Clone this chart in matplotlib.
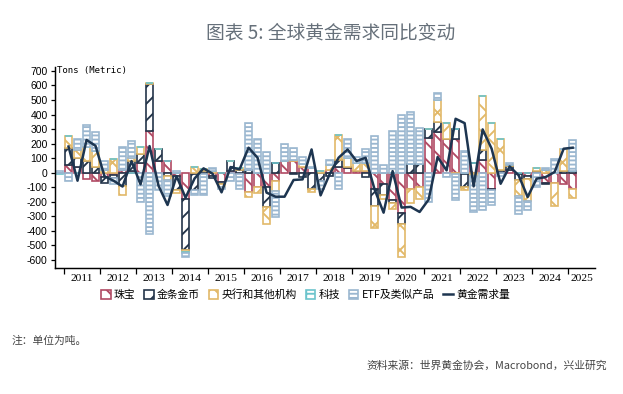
import matplotlib
matplotlib.use("Agg")
import matplotlib.pyplot as plt
import numpy as np

# quarterly yoy change, 2010Q4 .. 2025Q1 (tonnes)
jewelry = [-5, 50, 40, -45, -60, -30, -15, 20, 10, 70, 290, 80, 80, -20, -180, -10, -10, -20, -65, 15,
           -10, -130, -100, -100, -55, 80, 80, 40, 30, -5, 20, 40, 30, 15, 10, -110, -80, -190, -280, -110,
           -100, 240, 280, 230, 230, -10, 70, 85, -110, 5, 20, -10, -20, 5, -70, -70, -75, -110]
barcoin = [0, 120, 60, 80, 40, -40, -20, -90, 70, 60, 320, 80, -20, -100, -350, -110, 10, -15, -15, 65,
           20, 20, 0, -135, 70, 0, -10, -30, -110, -50, -20, 45, 10, 0, -30, -120, -70, -20, -70, 60,
           60, 60, 70, 0, 70, -90, 0, 70, -10, 15, 25, -40, -25, 10, -10, 0, 15, 10]
cbank = [0, 80, 55, 100, 110, 20, 95, -60, 20, 50, 10, 0, -30, -20, -15, 40, 15, 10, -20, 0,
         10, -35, -40, -115, -70, 0, 10, 20, -20, 10, 30, 175, 60, 50, 60, -150, -30, -40, -230, -100,
         -80, 0, 150, 115, -10, -20, -20, 370, 340, 215, 10, -110, -150, 15, 20, -160, 150, -65]
tech = [-5, 5, -5, 0, 0, 0, 0, 0, -5, 0, 0, 0, 0, 0, -5, 0, 0, 0, 0, 0,
        0, 0, 0, 0, 0, 0, 0, 0, 0, 0, 0, 0, 0, 0, 0, 0, 0, 0, 0, 0,
        0, 0, 0, 0, 0, 0, 0, 0, 0, 0, 0, 0, 0, 0, 0, 0, 0, 0]
etf = [10, -55, 75, 150, 130, 60, -40, 156, 120, -200, -420, -120, -110, 10, -30, -30, -140, 25, -10, -55,
       -100, 320, 230, 140, -180, 120, 80, 50, 10, -60, 40, -110, 130, 40, 90, 250, 50, 290, 400, 360,
       250, -200, 45, -30, -180, 150, -250, -260, -100, -20, 10, -125, -60, -100, 10, 95, 0, 215]
total = [np.nan, 180, -55, 225, 185, -25, -55, -95, 80, -80, 183, -90, -222, -23, -172, -40, 30, -7, -135, 39,
         23, 172, 103, -137, -165, -165, -50, -46, 160, -156, -11, 103, 160, 80, 103, -115, -275, 11, -240, -235,
         -270, -185, 108, 16, 371, 341, -94, 298, 165, -76, 43, -18, -167, -41, -30, 5, 165, 172]

years = [str(y) for y in range(2011, 2026)]

series = [
    ("珠宝", jewelry, "#b04a64", "\\\\\\"),
    ("金条金币", barcoin, "#24354a", "///"),
    ("央行和其他机构", cbank, "#e2b969", "xx"),
    ("科技", tech, "#6cc4cc", "++"),
    ("ETF及类似产品", etf, "#9bb7d0", "------"),
]

DPI = 150
plt.rcParams["hatch.linewidth"] = 0.9
plt.rcParams["font.family"] = ["Noto Sans CJK SC", "DejaVu Sans"]

fig = plt.figure(figsize=(623 / DPI, 394 / DPI), dpi=DPI)
ax = fig.add_axes([0.0883, 0.320, 0.867, 0.511])

x = np.arange(len(jewelry))
pos = np.zeros(len(x))
neg = np.zeros(len(x))
for name, vals, col, hatch in series:
    v = np.array(vals, dtype=float)
    bottom = np.where(v >= 0, pos, neg)
    ax.bar(x, v, 0.82, bottom=bottom, facecolor="white", edgecolor=col,
           hatch=hatch, linewidth=0.8, label=name)
    pos += np.where(v >= 0, v, 0)
    neg += np.where(v < 0, v, 0)

ax.plot(x, total, color="#1d3550", linewidth=1.2, label="黄金需求量")

ax.set_xlim(-0.5, 59.5)
ax.set_ylim(-655, 730)

# year boundaries as ticks, labels centred in each year
bounds = np.arange(0.5, 57, 4)
ax.set_xticks(bounds)
ax.set_xticklabels([])
centres = list(bounds[:-1] + 2) + [58]
ax.set_xticks(centres, minor=True)
ax.set_xticklabels(years, minor=True, family="Liberation Serif", fontsize=5.5)
ax.tick_params(axis="x", which="major", length=3, width=0.6, direction="out")
ax.tick_params(axis="x", which="minor", length=0, pad=3)

ax.set_yticks(range(-600, 701, 100))
ax.set_yticklabels([str(t) for t in range(-600, 701, 100)], family="Liberation Sans", fontsize=5.0)
ax.tick_params(axis="y", length=2, width=0.6, pad=1.5)

for s in ["top", "right"]:
    ax.spines[s].set_visible(False)
for s in ["left", "bottom"]:
    ax.spines[s].set_linewidth(0.7)

ax.text(0.004, 700, "Tons (Metric)", transform=ax.get_yaxis_transform(),
        family="DejaVu Sans Mono", fontsize=4.3, va="center", ha="left")

handles, labels = ax.get_legend_handles_labels()
order = [1, 2, 3, 4, 5, 0]
leg = fig.legend([handles[i] for i in order], [labels[i] for i in order],
                 loc="center", bbox_to_anchor=(0.49, 0.252), ncol=6, frameon=False,
                 fontsize=5.2, handlelength=0.9, handleheight=0.9, handletextpad=0.3,
                 columnspacing=0.8)

fig.text(0.53, 0.916, "图表 5: 全球黄金需求同比变动", ha="center", va="center",
         fontsize=9.0, color="#66707a")
fig.text(0.019, 0.134, "注：单位为吨。", ha="left", va="center", fontsize=5.2, color="#444444")
fig.text(0.974, 0.071, "资料来源：世界黄金协会，Macrobond，兴业研究", ha="right", va="center",
         fontsize=5.2, color="#444444")

fig.savefig("out.png", dpi=DPI)
